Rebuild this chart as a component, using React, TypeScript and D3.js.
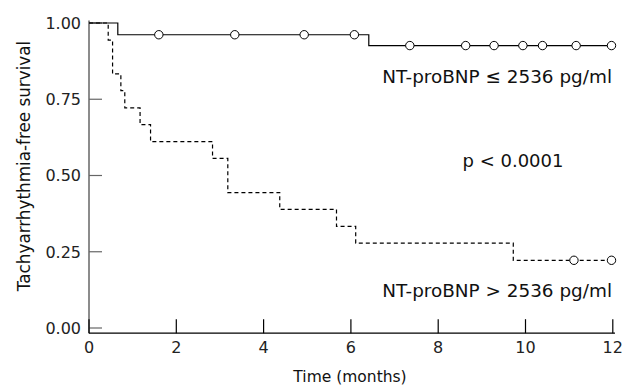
import React, { useEffect, useRef } from 'react';
import * as d3 from 'd3';

// step curve for NT-proBNP <= 2536 pg/ml
const lowTimes = [0, 0.66, 6.41, 12];
const lowSurv = [1, 0.9615, 0.926, 0.926];
const lowCensorTimes = [1.6, 3.34, 4.93, 6.08, 7.35, 8.63, 9.28, 9.94, 10.39, 11.16, 11.97];

// step curve for NT-proBNP > 2536 pg/ml
const highTimes = [0, 0.44, 0.54, 0.73, 0.82, 1.17, 1.41, 2.83, 3.18, 4.37, 5.67, 6.11, 9.72, 11.97];
const highSurv = [1, 0.944, 0.833, 0.778, 0.722, 0.667, 0.611, 0.556, 0.444, 0.389, 0.333, 0.278, 0.222, 0.222];
const highCensorTimes = [11.11, 11.97];

const xTicks = [0, 2, 4, 6, 8, 10, 12];
const yTicks = [0, 0.25, 0.5, 0.75, 1];

const FONT = '"DejaVu Sans", sans-serif';

function survAt(times: number[], surv: number[], t: number) {
    let v = surv[0];
    for (let i = 0; i < times.length; i++) {
        if (times[i] <= t) v = surv[i];
    }
    return v;
}

function App() {
    const ref = useRef<SVGSVGElement>(null);

    useEffect(() => {
        const svg = d3.select(ref.current);
        svg.selectAll('*').remove();

        const x = d3.scaleLinear().domain([0, 12]).range([89, 612.8]);
        const y = d3.scaleLinear().domain([0, 1]).range([328, 23]);

        const g = svg.append('g');

        // y axis line (grey)
        g.append('line')
            .attr('x1', x(0)).attr('x2', x(0))
            .attr('y1', y(1.008)).attr('y2', y(-0.017))
            .attr('stroke', '#666').attr('stroke-width', 1.5);

        // x axis line
        g.append('line')
            .attr('x1', x(0)).attr('x2', x(12.05))
            .attr('y1', y(-0.017)).attr('y2', y(-0.017))
            .attr('stroke', '#000').attr('stroke-width', 1.2);

        // y ticks (pointing inward)
        yTicks.forEach(t => {
            g.append('line')
                .attr('x1', x(0)).attr('x2', x(0) + 13)
                .attr('y1', y(t)).attr('y2', y(t))
                .attr('stroke', '#666').attr('stroke-width', 1.2);
            g.append('text')
                .attr('x', 81).attr('y', y(t))
                .attr('dy', '0.36em')
                .attr('text-anchor', 'end')
                .attr('font-family', FONT).attr('font-size', 16)
                .attr('fill', '#222')
                .text(d3.format('.2f')(t));
        });

        // x ticks (pointing up)
        xTicks.forEach(t => {
            g.append('line')
                .attr('x1', x(t)).attr('x2', x(t))
                .attr('y1', y(-0.017)).attr('y2', y(-0.017) - 14)
                .attr('stroke', '#000').attr('stroke-width', 1.2);
            g.append('text')
                .attr('x', x(t)).attr('y', 353)
                .attr('text-anchor', 'middle')
                .attr('font-family', FONT).attr('font-size', 16)
                .attr('fill', '#222')
                .text(t);
        });

        const line = d3.line<number>()
            .x((d, i) => x(d))
            .curve(d3.curveStepAfter);

        // low group (solid)
        g.append('path')
            .attr('d', line.y((d, i) => y(lowSurv[i]))(lowTimes))
            .attr('fill', 'none').attr('stroke', '#000').attr('stroke-width', 1.2);

        // high group (dashed)
        g.append('path')
            .attr('d', line.y((d, i) => y(highSurv[i]))(highTimes))
            .attr('fill', 'none').attr('stroke', '#000').attr('stroke-width', 1.2)
            .attr('stroke-dasharray', '4,3');

        g.selectAll('circle.low')
            .data(lowCensorTimes)
            .enter()
            .append('circle')
            .attr('cx', d => x(d))
            .attr('cy', d => y(survAt(lowTimes, lowSurv, d)))
            .attr('r', 4.2)
            .attr('fill', '#fff').attr('stroke', '#000').attr('stroke-width', 1);

        g.selectAll('circle.high')
            .data(highCensorTimes)
            .enter()
            .append('circle')
            .attr('cx', d => x(d))
            .attr('cy', d => y(survAt(highTimes, highSurv, d)))
            .attr('r', 4.2)
            .attr('fill', '#fff').attr('stroke', '#000').attr('stroke-width', 1);

        // annotations
        g.append('text')
            .attr('x', 612).attr('y', 83)
            .attr('text-anchor', 'end')
            .attr('font-family', FONT).attr('font-size', 18.4)
            .attr('fill', '#111')
            .text('NT-proBNP \u2264 2536 pg/ml');

        g.append('text')
            .attr('x', 513).attr('y', 167)
            .attr('text-anchor', 'middle')
            .attr('font-family', FONT).attr('font-size', 18)
            .attr('fill', '#111')
            .text('p < 0.0001');

        g.append('text')
            .attr('x', 612).attr('y', 297)
            .attr('text-anchor', 'end')
            .attr('font-family', FONT).attr('font-size', 18.4)
            .attr('fill', '#111')
            .text('NT-proBNP > 2536 pg/ml');

        // axis titles
        g.append('text')
            .attr('x', 350).attr('y', 382)
            .attr('text-anchor', 'middle')
            .attr('font-family', FONT).attr('font-size', 15.5)
            .attr('fill', '#111')
            .text('Time (months)');

        g.append('text')
            .attr('transform', 'translate(30,166) rotate(-90)')
            .attr('text-anchor', 'middle')
            .attr('font-family', FONT).attr('font-size', 16.8)
            .attr('fill', '#111')
            .text('Tachyarrhythmia-free survival');
    }, []);

    return <svg ref={ref} width="623" height="387"
        style={{ position: 'absolute', left: 0, top: 0, background: '#fff' }}>
    </svg>;
}

export default App;
